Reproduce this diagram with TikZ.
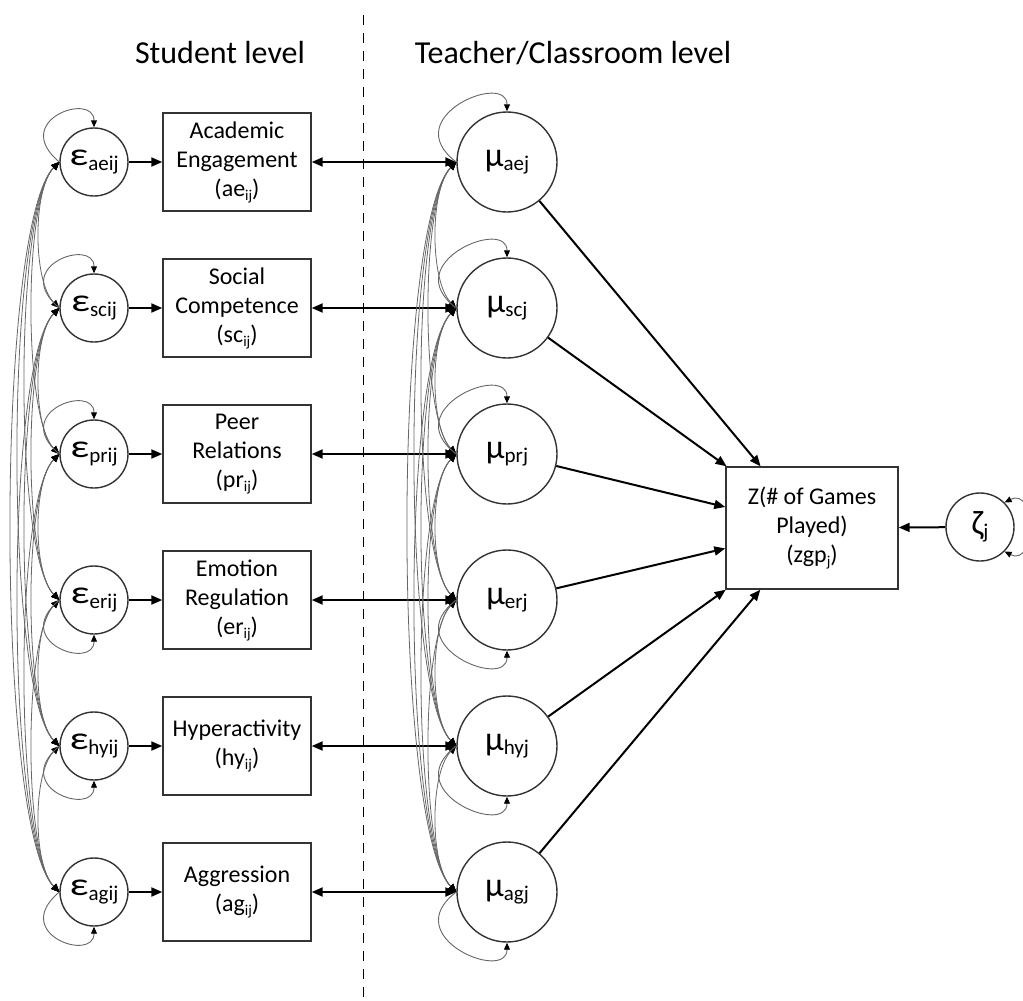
\documentclass[tikz,border=0pt]{standalone}
\usepackage{fontspec}
\setmainfont{Carlito}
\usepackage{graphicx}
\usetikzlibrary{arrows.meta}
\newcommand\lowsub[1]{\raisebox{-0.35ex}{\fontsize{7.5}{8}\selectfont #1}}
\newcommand\bigsub[1]{\raisebox{-0.45ex}{\fontsize{10.5}{11}\selectfont #1}}
\newcommand\epsl[1]{{\fontsize{16}{16}\selectfont\scalebox{1.3}[1]{ε}}\bigsub{#1}}
\newcommand\mul[1]{{\fontsize{17}{17}\selectfont μ}\bigsub{#1}}
\begin{document}
\begin{tikzpicture}[x=0.5pt,y=-0.5pt,
  latent/.style={circle,draw=black!80,line width=0.7pt,inner sep=0pt},
  eps/.style={latent,minimum size=34pt},
  mu/.style={latent,minimum size=50pt},
  obs/.style={draw=black!80,line width=0.7pt,minimum width=74pt,minimum height=49pt,
    align=center,inner sep=2pt,font=\fontsize{12}{14.5}\selectfont},
  title/.style={font=\fontsize{16}{19}\selectfont,anchor=base},
  main/.style={line width=1pt,-{Triangle[length=5.5pt,width=4.5pt]}},
  both/.style={line width=1pt,{Triangle[length=5.5pt,width=4.5pt]}-{Triangle[length=5.5pt,width=4.5pt]}},
  cov/.style={draw=black!60,line width=0.4pt,
    {Triangle[length=4pt,width=3.5pt,color=black]}-{Triangle[length=4pt,width=3.5pt,color=black]}},
  selfloop/.style={draw=black!60,line width=0.45pt,-{Triangle[length=3.5pt,width=3pt,color=black]}},
  divider/.style={line width=0.5pt,dash pattern=on 5pt off 4pt}
]
\useasboundingbox (0,0) rectangle (1023,1001);

% titles and divider
\node[title] (tstud) at (220,63) {Student level};
\node[title] (tteach) at (573,63) {Teacher/Classroom level};
\coordinate (dtop) at (363,15);
\coordinate (dbot) at (363,1001);
\draw[divider] (dtop) -- (dbot);

% student level
\node[eps] (e1) at (94,162) {\epsl{aeij}};
\node[eps] (e2) at (94,308) {\epsl{scij}};
\node[eps] (e3) at (94,454) {\epsl{prij}};
\node[eps] (e4) at (94,600) {\epsl{erij}};
\node[eps] (e5) at (94,746) {\epsl{hyij}};
\node[eps] (e6) at (94,892) {\epsl{agij}};

\node[obs] (b1) at (237,162) {Academic\\Engagement\\(ae\lowsub{ij})};
\node[obs] (b2) at (237,308) {Social\\Competence\\(sc\lowsub{ij})};
\node[obs] (b3) at (237,454) {Peer\\Relations\\(pr\lowsub{ij})};
\node[obs] (b4) at (237,600) {Emotion\\Regulation\\(er\lowsub{ij})};
\node[obs] (b5) at (237,746) {Hyperactivity\\(hy\lowsub{ij})};
\node[obs] (b6) at (237,892) {Aggression\\(ag\lowsub{ij})};

% teacher level
\node[mu] (m1) at (507,162) {\mul{aej}};
\node[mu] (m2) at (507,308) {\mul{scj}};
\node[mu] (m3) at (507,454) {\mul{prj}};
\node[mu] (m4) at (507,600) {\mul{erj}};
\node[mu] (m5) at (507,746) {\mul{hyj}};
\node[mu] (m6) at (507,892) {\mul{agj}};

\node[obs,minimum width=86pt,minimum height=61pt] (Z) at (812,528)
  {Z(\# of Games\\Played)\\(zgp\lowsub{j})};
\node[latent,minimum size=34pt] (zeta) at (980,527)
  {{\fontsize{17}{17}\selectfont ζ}\bigsub{j}};

% main arrows
\foreach \i in {1,...,6}{
  \draw[main] (e\i) -- (b\i);
  \draw[both] (b\i.east) -- (m\i.west);
  \draw[main] (m\i) -- (Z);
}
\draw[main] (zeta) -- (Z);
\draw[selfloop,{Triangle[length=3.5pt,width=3pt,color=black]}-{Triangle[length=3.5pt,width=3pt,color=black]}]
  (zeta.45) .. controls +(32,-16) and +(32,16) .. (zeta.-45);

% covariances
\foreach \i in {1,...,5}{
  \pgfmathtruncatemacro\ip{\i+1}
  \foreach \j in {\ip,...,6}{
    \pgfmathsetmacro\dd{(13+7*(\j-\i))/0.75}
    \draw[cov] (e\i.west) .. controls +(-\dd,\dd) and +(-\dd,-\dd) .. (e\j.west);
    \draw[cov] (m\i.west) .. controls +(-\dd,\dd) and +(-\dd,-\dd) .. (m\j.west);
  }
}

% variances
\foreach \i in {1,2,3}{
  \draw[selfloop] (e\i.west) .. controls +(-50,-42) and +(0,-36) .. (e\i.north);
  \draw[selfloop] (m\i.west) .. controls +(-60,-45) and +(0,-40) .. (m\i.north);
}
\foreach \i in {4,5,6}{
  \draw[selfloop] (e\i.west) .. controls +(-50,42) and +(0,36) .. (e\i.south);
  \draw[selfloop] (m\i.west) .. controls +(-60,45) and +(0,40) .. (m\i.south);
}
\end{tikzpicture}
\end{document}
